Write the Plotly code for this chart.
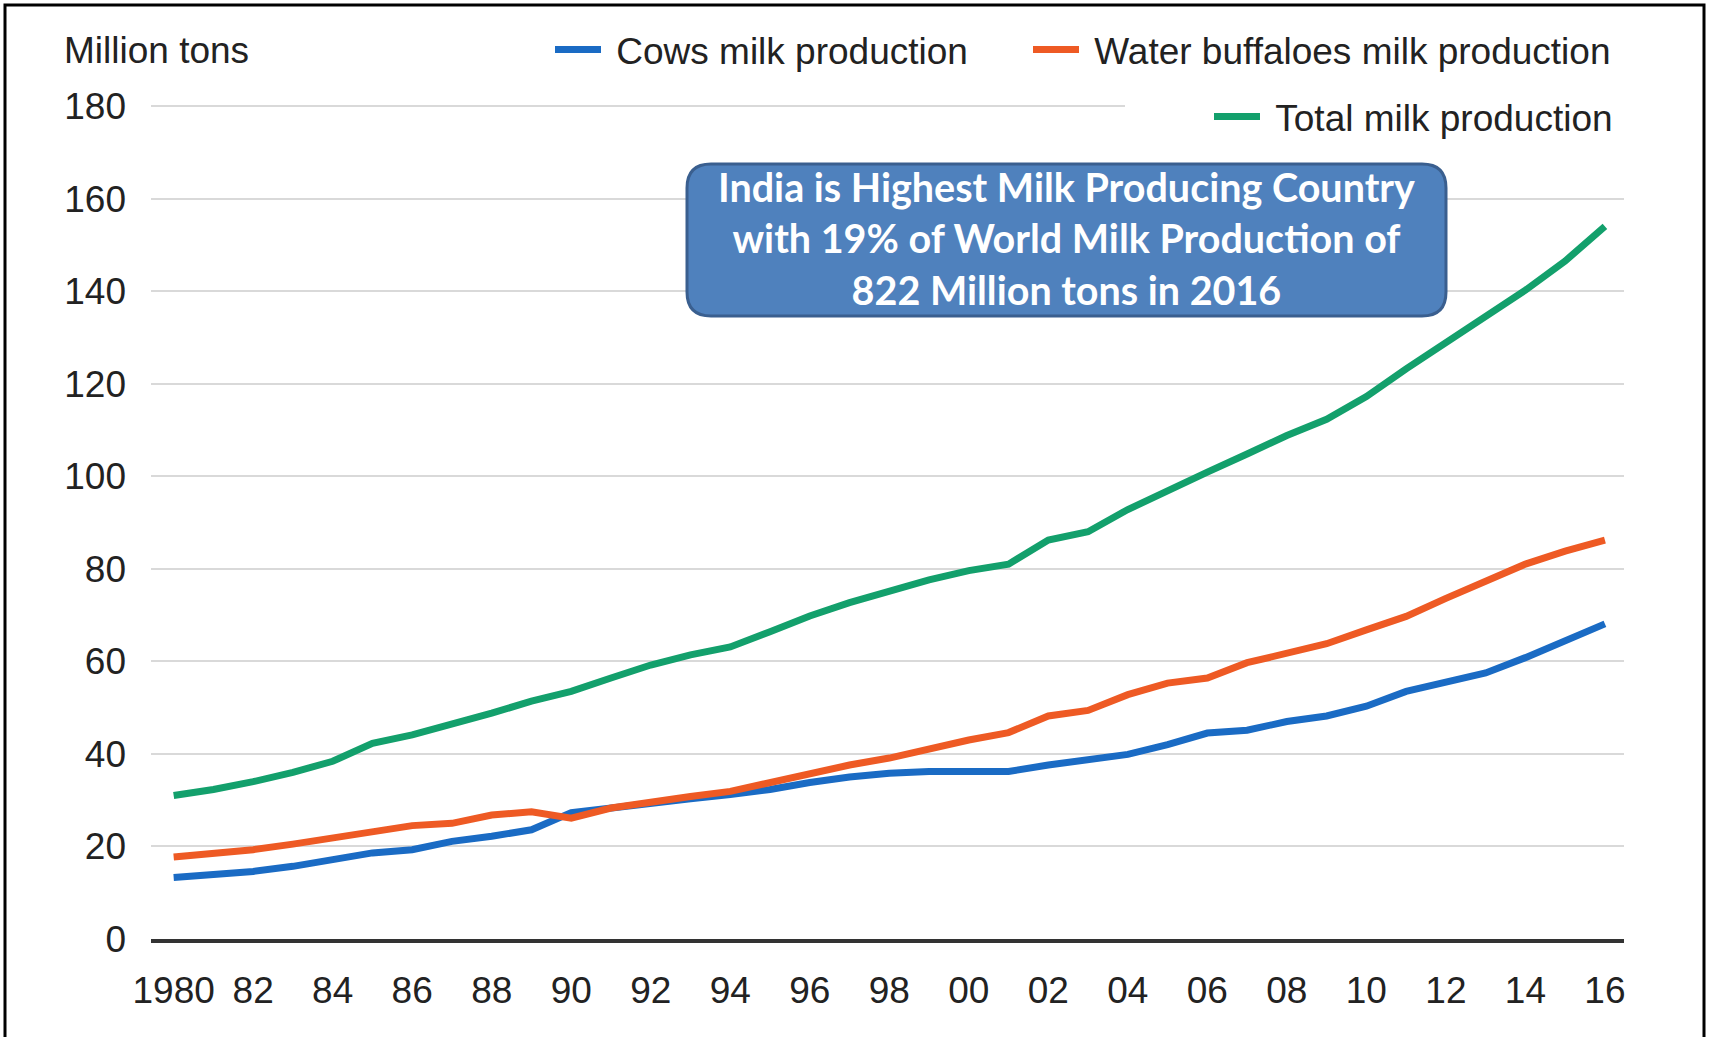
import plotly.graph_objects as go

# India milk production, million tons
years = list(range(1980, 2017))
cows_milk = [13.3, 13.9, 14.6, 15.7, 17.1, 18.6, 19.3, 21.1, 22.2, 23.6,
             27.3, 28.4, 29.4, 30.3, 31.2, 32.3, 33.8, 35.0, 35.8, 36.2,
             36.2, 36.2, 37.6, 38.7, 39.9, 42.0, 44.5, 45.1, 47.0, 48.2,
             50.3, 53.5, 55.5, 57.5, 60.8, 64.3, 68.1]
buffalo_milk = [17.7, 18.5, 19.3, 20.5, 21.9, 23.4, 24.5, 25.0, 26.8, 27.5,
                26.1, 28.3, 29.7, 30.8, 31.9, 33.8, 35.8, 37.6, 39.1, 41.2,
                43.0, 44.6, 48.2, 49.4, 52.8, 55.3, 56.4, 59.7, 61.9, 63.8,
                66.8, 69.7, 73.6, 77.2, 81.0, 83.8, 86.2]
total_milk = [31.0, 32.3, 34.0, 36.0, 38.4, 42.3, 44.1, 46.3, 48.8, 51.4,
              53.5, 56.4, 59.2, 61.4, 63.1, 66.4, 69.8, 72.7, 75.2, 77.6,
              79.6, 81.0, 86.2, 88.0, 92.8, 97.0, 100.9, 104.8, 108.8, 112.3,
              117.2, 123.2, 129.0, 134.4, 140.2, 146.5, 154.0]

tick_years = list(range(1980, 2017, 2))
tick_text = ["1980"] + [f"{y % 100:02d}" for y in tick_years[1:]]
y_ticks = list(range(0, 181, 20))

series_names = ["Cows milk production", "Water buffaloes milk production",
                "Total milk production"]
series_colors = ["#1A6BC4", "#EE5A24", "#13A06C"]

callout = ("India is Highest Milk Producing Country<br>"
           "with 19% of World Milk Production of<br>"
           "822 Million tons in 2016")

W, H = 1711, 1037
ML, MR, MT, MB = 151, 87, 101, 98
PW, PH = W - ML - MR, H - MT - MB
# 180 sits 5 px below the top edge so its gridline is drawn
Y_TOP = 180 + 5 * 180 / (H - MB - 106)


def px_x(x):
    return (x - ML) / PW


def px_y(y):
    return (H - MB - y) / PH


def rounded_rect(x0, y0, x1, y1, r):
    a, b, c, d = px_x(x0), px_y(y1), px_x(x1), px_y(y0)
    rx, ry = r / PW, r / PH
    return (f"M {a+rx},{b} L {c-rx},{b} Q {c},{b} {c},{b+ry} "
            f"L {c},{d-ry} Q {c},{d} {c-rx},{d} L {a+rx},{d} "
            f"Q {a},{d} {a},{d-ry} L {a},{b+ry} Q {a},{b} {a+rx},{b} Z")


FONT = "Liberation Sans, Arial, sans-serif"
TXT = "#222222"

fig = go.Figure()
legend_ids = ["legend2", "legend3", "legend4"]
for name, vals, color, lg in zip(series_names,
                                 [cows_milk, buffalo_milk, total_milk],
                                 series_colors, legend_ids):
    fig.add_trace(go.Scatter(
        x=years, y=vals, mode="lines", name="\u00a0" + name, legend=lg,
        line=dict(color=color, width=7, shape="linear"),
    ))

leg_common = dict(orientation="h", yanchor="middle", xanchor="left",
                  bgcolor="rgba(255,255,255,1)", borderwidth=0,
                  font=dict(family=FONT, size=37, color=TXT), itemwidth=46)

fig.update_layout(
    width=W, height=H, autosize=False,
    margin=dict(l=ML, r=MR, t=MT, b=MB),
    paper_bgcolor="white", plot_bgcolor="white",
    font=dict(family=FONT, size=36, color=TXT),
    showlegend=True,
    legend2=dict(x=px_x(550), y=px_y(50), **leg_common),
    legend3=dict(x=px_x(1028), y=px_y(50), **leg_common),
    legend4=dict(x=px_x(1209), y=px_y(117), **leg_common),
    xaxis=dict(
        range=[1979.43, 2016.48], tickmode="array", tickvals=tick_years,
        ticktext=tick_text, showgrid=False, zeroline=False,
        showline=True, linecolor="#333333", linewidth=4,
        ticks="", ticklabelstandoff=16,
        tickfont=dict(family=FONT, size=37, color=TXT),
    ),
    yaxis=dict(
        range=[0, Y_TOP], tickmode="array", tickvals=y_ticks,
        showgrid=True, gridcolor="#D9D9D9", gridwidth=2,
        zeroline=False, showline=False, ticks="", ticklabelstandoff=24,
        tickfont=dict(family=FONT, size=37, color=TXT),
    ),
    hovermode=False,
)

shapes = [
    # white strip behind the upper legend row, hiding the top gridline there
    dict(type="rect", xref="paper", yref="paper", layer="above",
         x0=px_x(1125), x1=1.0, y0=px_y(112), y1=px_y(100),
         fillcolor="white", line=dict(width=0)),
    # callout box
    dict(type="path", xref="paper", yref="paper", layer="above",
         path=rounded_rect(687, 164, 1446, 316, 24),
         fillcolor="#4F81BD", line=dict(color="#3A5F8F", width=3)),
    # outer frame
    dict(type="rect", xref="paper", yref="paper", layer="above",
         x0=px_x(5), x1=px_x(1704), y0=px_y(1080), y1=px_y(5),
         fillcolor="rgba(0,0,0,0)", line=dict(color="black", width=3)),
]

annotations = [
    dict(text="Million tons", xref="paper", yref="paper",
         x=px_x(62), y=px_y(50), xanchor="left", yanchor="middle",
         showarrow=False, font=dict(family=FONT, size=37, color=TXT)),
    dict(text=callout, xref="paper", yref="paper",
         x=px_x(1066), y=px_y(238), xanchor="center", yanchor="middle",
         showarrow=False, align="center",
         font=dict(family="Lato, Carlito, sans-serif", size=39.5,
                   color="white", weight="bold")),
]

fig.update_layout(shapes=shapes, annotations=annotations)
fig.write_html("out.html")
